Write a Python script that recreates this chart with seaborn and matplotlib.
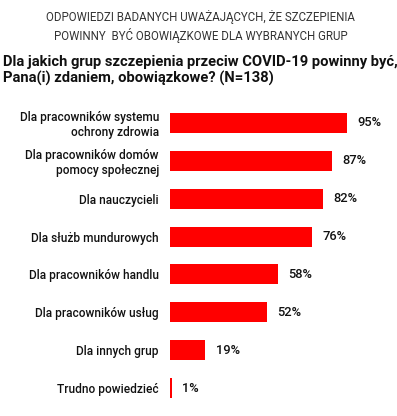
import numpy as np
import pandas as pd
import seaborn as sns
import matplotlib.pyplot as plt

# Survey answers (share of respondents, %)
groups = [
    "Dla pracowników systemu\nochrony zdrowia",
    "Dla pracowników domów\npomocy społecznej",
    "Dla nauczycieli",
    "Dla służb mundurowych",
    "Dla pracowników handlu",
    "Dla pracowników usług",
    "Dla innych grup",
    "Trudno powiedzieć",
]
shares = [95, 87, 82, 76, 58, 52, 19, 1]

df = pd.DataFrame({"group": groups, "share": shares})

sns.set_theme(style="white")
plt.rcParams['font.family'] = ['Roboto', 'DejaVu Sans']

W, H = 397, 416
fig = plt.figure(figsize=(W / 100, H / 100), dpi=100)
ax = fig.add_axes([170 / W, (H - 407) / H, 224 / W, 303 / H])

sns.barplot(data=df, y="group", x="share", orient="h", color="#ff0000",
            saturation=1, width=0.53, linewidth=0, ax=ax)

ax.set_xlim(0, 120)
ax.set_ylim(7.5, -0.5)
ax.set_xlabel("")
ax.set_ylabel("")
ax.set_xticks([])
sns.despine(ax=ax, left=True, bottom=True)
ax.tick_params(axis="y", length=0, pad=8, labelsize=8.6, labelcolor="#111111")
for lbl in ax.get_yticklabels():
    lbl.set_linespacing(1.2)
    lbl.set_fontweight("medium")

ax.bar_label(ax.containers[0], fmt="%.0f%%", padding=7.5,
             fontsize=9.3, color="#111111", fontweight="medium")

fig.text(0.505, 1 - 10 / H, "ODPOWIEDZI BADANYCH UWAŻAJĄCYCH, ŻE SZCZEPIENIA\n"
         "POWINNY  BYĆ OBOWIĄZKOWE DLA WYBRANYCH GRUP",
         ha="center", va="top", fontsize=8.3, fontweight="normal",
         color="#333333", linespacing=1.3)
fig.text(3 / W, 1 - 55 / H, "Dla jakich grup szczepienia przeciw COVID-19 powinny być,\n"
         "Pana(i) zdaniem, obowiązkowe? (N=138)",
         ha="left", va="top", fontsize=10.6, fontweight="semibold",
         color="#111111", linespacing=1.2)

fig.savefig("out.png", dpi=100)
